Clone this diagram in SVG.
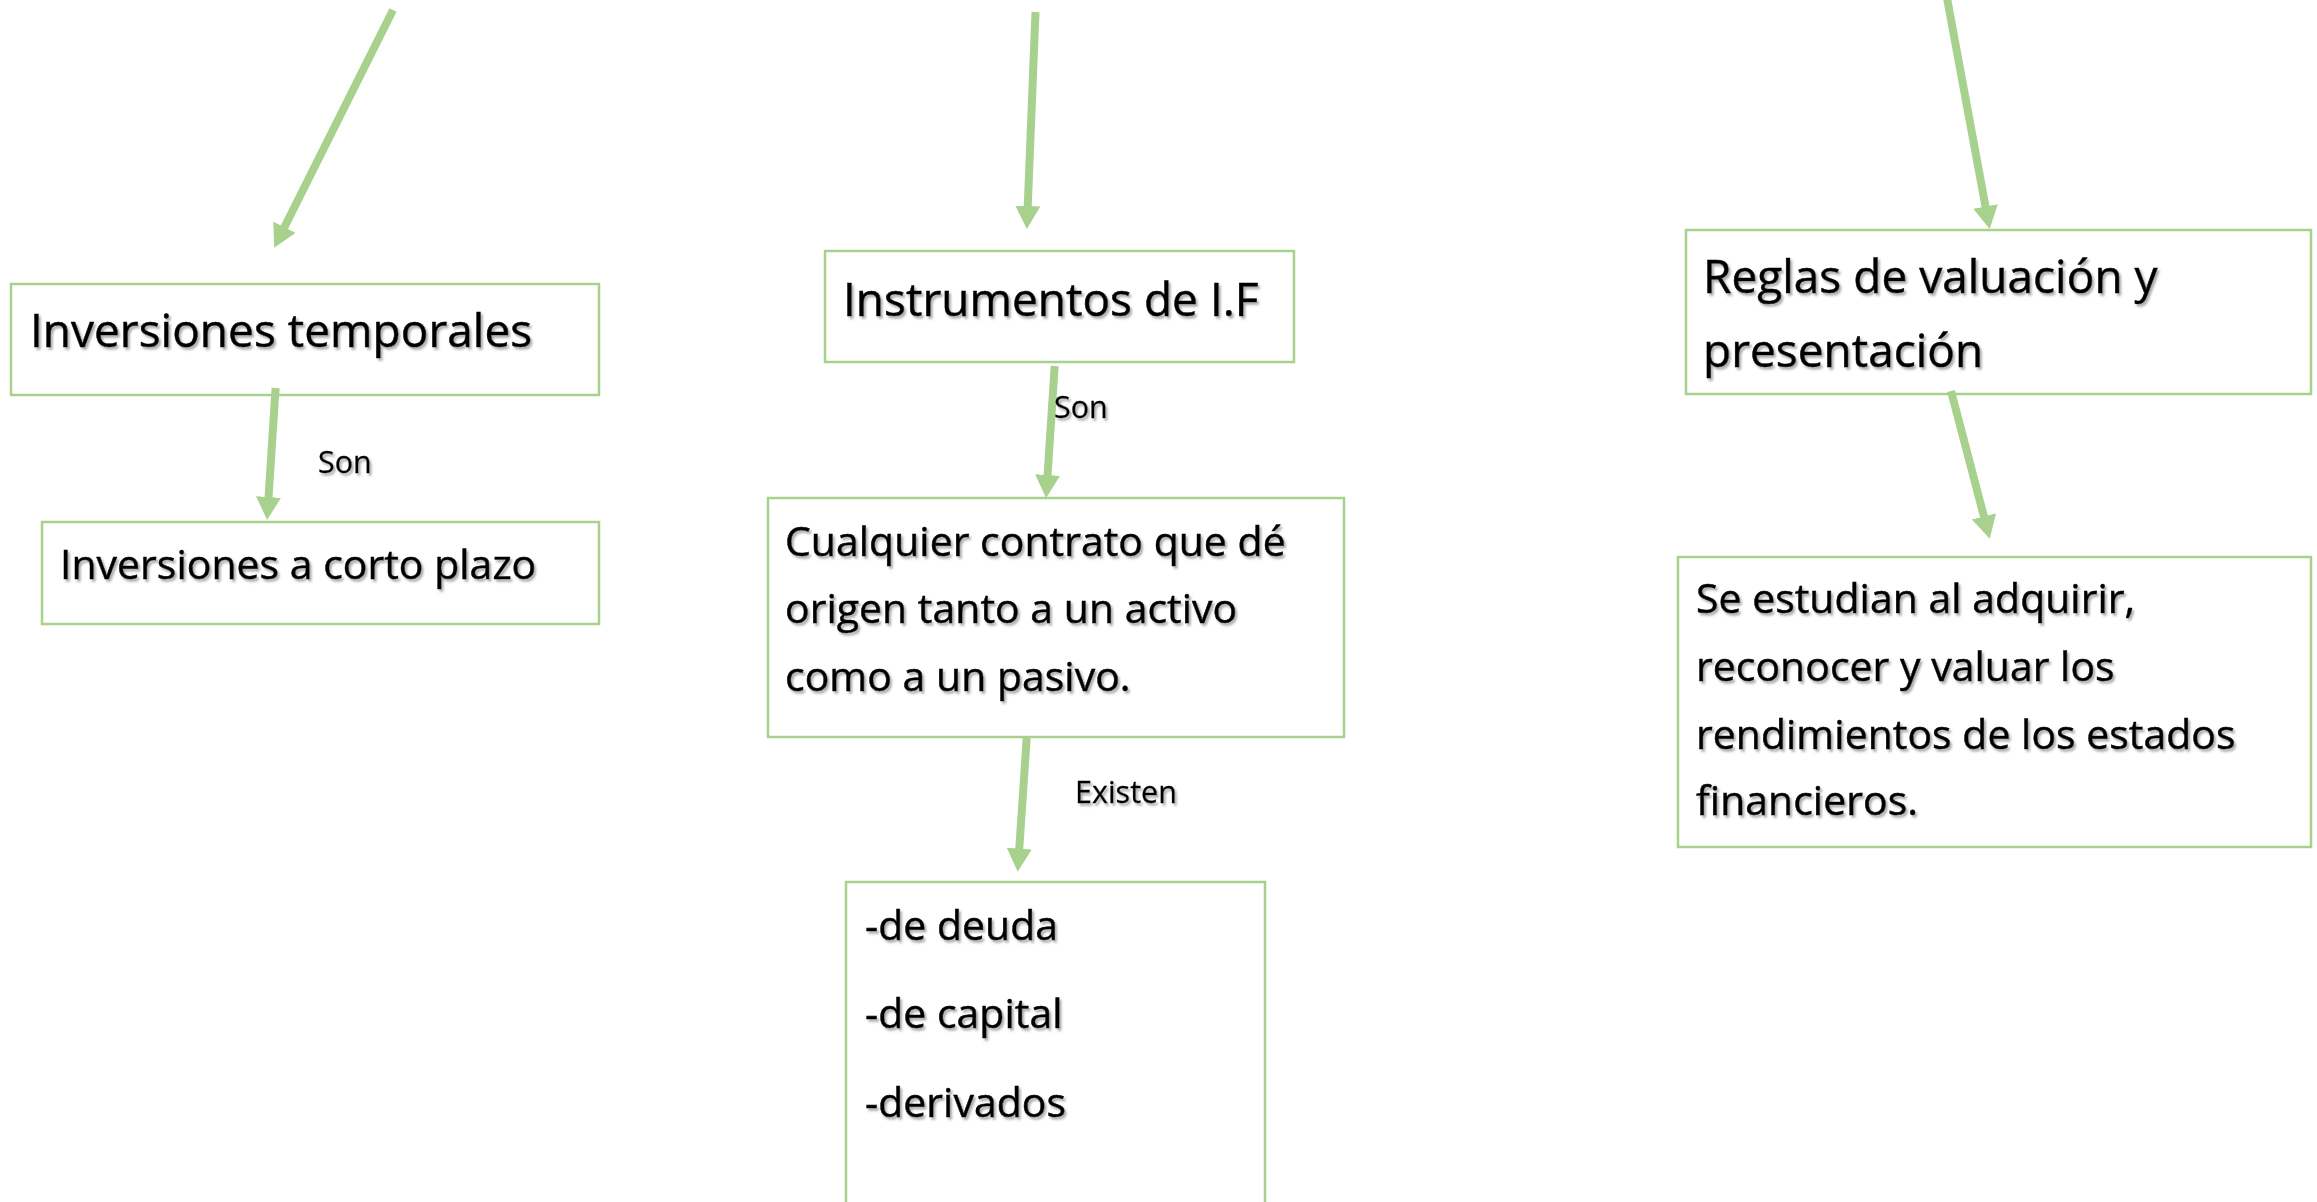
<svg xmlns="http://www.w3.org/2000/svg" width="2317" height="1202" viewBox="0 0 2317 1202">
<style>
.box{fill:#FFFFFF;stroke:#A9D18E;stroke-width:2.5}
.t{font-family:"Open Sans","Noto Sans","DejaVu Sans",sans-serif;fill:#000000;stroke:#000000;stroke-width:0.5;filter:url(#sh)}
.big{font-size:46px}
.mid{font-size:41px}
.lbl{font-size:30.5px;stroke-width:0.3}
.con{stroke:#A9D18E;stroke-width:8;fill:none;marker-end:url(#ah)}
</style>
<defs>
<filter id="sh" x="-5%" y="-20%" width="110%" height="140%">
<feDropShadow dx="2" dy="2.5" stdDeviation="1.3" flood-color="#707070" flood-opacity="0.6"/>
</filter>
<marker id="ah" markerUnits="userSpaceOnUse" markerWidth="26" markerHeight="26" viewBox="0 0 26 26" refX="1" refY="12.5" orient="auto">
<path d="M0,0 L23,12.5 L0,25 z" fill="#A9D18E"/>
</marker>
</defs>
<rect width="2317" height="1202" fill="#FFFFFF"/>
<g id="node-inversiones-temporales">
<rect class="box" x="11" y="284" width="588" height="111"/>
<text class="t big" x="30" y="347">Inversiones temporales</text>
</g>
<g id="node-inversiones-corto-plazo">
<rect class="box" x="42" y="522" width="557" height="102"/>
<text class="t mid" x="60" y="579">Inversiones a corto plazo</text>
</g>
<g id="node-instrumentos">
<rect class="box" x="825" y="251" width="469" height="111"/>
<text class="t big" x="843" y="316">Instrumentos de I.F</text>
</g>
<g id="node-cualquier-contrato">
<rect class="box" x="768" y="498" width="576" height="239"/>
<text class="t mid" x="785" y="556">Cualquier contrato que dé</text>
<text class="t mid" x="785" y="623">origen tanto a un activo</text>
<text class="t mid" x="785" y="691">como a un pasivo.</text>
</g>
<g id="node-tipos">
<rect class="box" x="846" y="882" width="419" height="340"/>
<text class="t mid" x="865" y="940">-de deuda</text>
<text class="t mid" x="865" y="1028">-de capital</text>
<text class="t mid" x="865" y="1117">-derivados</text>
</g>
<g id="node-reglas">
<rect class="box" x="1686" y="230" width="625" height="164"/>
<text class="t big" x="1703" y="293">Reglas de valuación y</text>
<text class="t big" x="1703" y="367">presentación</text>
</g>
<g id="node-se-estudian">
<rect class="box" x="1678" y="557" width="633" height="290"/>
<text class="t mid" x="1696" y="613">Se estudian al adquirir,</text>
<text class="t mid" x="1696" y="681">reconocer y valuar los</text>
<text class="t mid" x="1696" y="749">rendimientos de los estados</text>
<text class="t mid" x="1696" y="815">financieros.</text>
</g>
<g id="connectors">
<line class="con" x1="393" y1="10" x2="284" y2="228"/>
<line class="con" x1="275.6" y1="388" x2="268.5" y2="498"/>
<line class="con" x1="1035.5" y1="12" x2="1027.7" y2="207"/>
<line class="con" x1="1054.7" y1="366" x2="1047.5" y2="476"/>
<line class="con" x1="1026.7" y1="738" x2="1019.2" y2="849.7"/>
<line class="con" x1="1947" y1="-2" x2="1985.7" y2="207.4"/>
<line class="con" x1="1951" y1="391" x2="1984.2" y2="517.4"/>
<text class="t lbl" x="318" y="473">Son</text>
<text class="t lbl" x="1054" y="418">Son</text>
<text class="t lbl" x="1075" y="803">Existen</text>
</g>
</svg>
